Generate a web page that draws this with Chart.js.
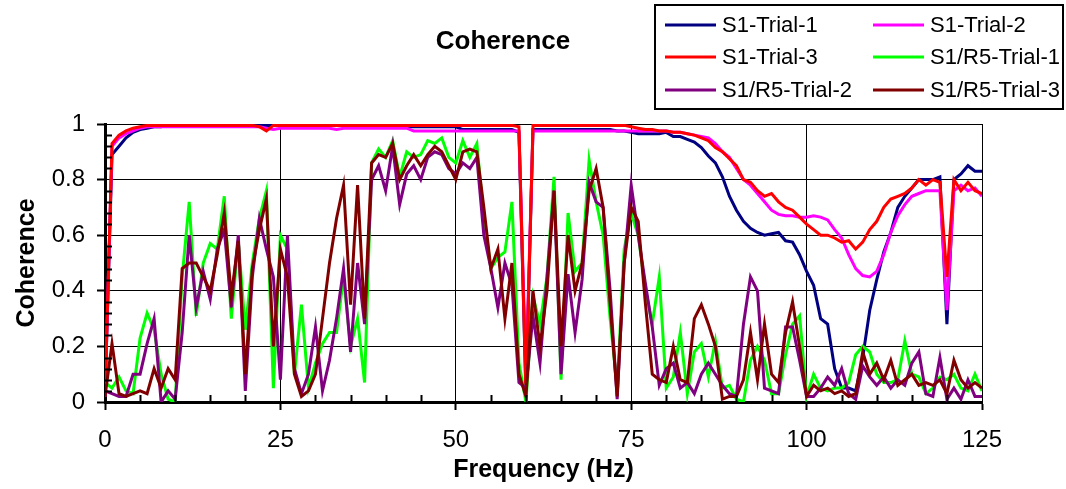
<!DOCTYPE html>
<html>
<head>
<meta charset="utf-8">
<title>Coherence</title>
<script src="https://cdn.jsdelivr.net/npm/chart.js@4.4.1/dist/chart.umd.min.js"></script>
<style>
  html, body { margin: 0; padding: 0; background: #fff; }
  #chart { display: block; }
</style>
</head>
<body>
<canvas id="chart" width="1066" height="489"></canvas>
<script>
'use strict';

// frequency bins (Hz), one per Hz
let freq = [
  0,1,2,3,4,5,6,7,8,9,10,11,12,13,14,15,16,17,18,19,
  20,21,22,23,24,25,26,27,28,29,30,31,32,33,34,35,36,37,38,39,
  40,41,42,43,44,45,46,47,48,49,50,51,52,53,54,55,56,57,58,59,
  60,61,62,63,64,65,66,67,68,69,70,71,72,73,74,75,76,77,78,79,
  80,81,82,83,84,85,86,87,88,89,90,91,92,93,94,95,96,97,98,99,
  100,101,102,103,104,105,106,107,108,109,110,111,112,113,114,115,116,117,118,119,
  120,121,122,123,124,125
];

let s1Trial1 = [
  0.02,0.89,0.92,0.95,0.97,0.98,0.985,0.99,0.99,0.995,
  0.995,0.995,0.995,0.995,0.995,0.995,0.995,0.995,0.995,0.995,
  0.995,0.995,0.995,0.995,0.995,0.995,0.995,0.995,0.995,0.995,
  0.995,0.995,0.995,0.995,0.995,0.995,0.995,0.995,0.995,0.995,
  0.995,0.99,0.99,0.99,0.99,0.99,0.99,0.99,0.99,0.99,
  0.99,0.98,0.98,0.98,0.98,0.98,0.98,0.98,0.98,0.97,
  0.03,0.98,0.98,0.98,0.98,0.98,0.98,0.98,0.98,0.98,
  0.98,0.98,0.98,0.975,0.975,0.97,0.965,0.965,0.965,0.965,
  0.97,0.955,0.955,0.945,0.935,0.915,0.885,0.86,0.81,0.74,
  0.69,0.65,0.625,0.61,0.6,0.605,0.61,0.58,0.575,0.53,
  0.47,0.42,0.3,0.28,0.12,0.05,0.05,0.04,0.16,0.33,
  0.44,0.54,0.61,0.7,0.74,0.77,0.8,0.8,0.8,0.81,
  0.28,0.8,0.82,0.85,0.83,0.83
];

let s1Trial2 = [
  0.02,0.92,0.95,0.965,0.975,0.985,0.99,0.99,0.99,0.99,
  0.99,0.99,0.99,0.99,0.99,0.99,0.99,0.99,0.99,0.99,
  0.99,0.99,0.99,0.985,0.98,0.985,0.985,0.985,0.985,0.985,
  0.985,0.985,0.985,0.98,0.985,0.985,0.985,0.985,0.985,0.985,
  0.985,0.985,0.985,0.985,0.975,0.975,0.975,0.975,0.975,0.975,
  0.975,0.975,0.975,0.975,0.975,0.975,0.975,0.975,0.975,0.975,
  0.1,0.975,0.975,0.975,0.975,0.975,0.975,0.975,0.975,0.975,
  0.975,0.975,0.975,0.975,0.975,0.975,0.975,0.975,0.975,0.975,
  0.975,0.97,0.97,0.965,0.96,0.955,0.95,0.93,0.9,0.88,
  0.84,0.8,0.78,0.75,0.72,0.69,0.675,0.67,0.67,0.665,
  0.665,0.67,0.665,0.655,0.62,0.59,0.53,0.48,0.455,0.45,
  0.47,0.53,0.61,0.67,0.71,0.74,0.75,0.76,0.76,0.76,
  0.33,0.76,0.78,0.76,0.77,0.74
];

let s1Trial3 = [
  0.02,0.93,0.96,0.975,0.985,0.99,0.995,0.995,0.995,0.995,
  0.995,0.995,0.995,0.995,0.995,0.995,0.995,0.995,0.995,0.995,
  0.995,0.995,0.99,0.975,0.995,0.995,0.995,0.995,0.995,0.995,
  0.995,0.995,0.995,0.995,0.995,0.995,0.995,0.995,0.995,0.995,
  0.995,0.995,0.995,0.995,0.995,0.995,0.995,0.995,0.995,0.995,
  0.995,0.995,0.995,0.995,0.995,0.995,0.995,0.995,0.995,0.99,
  0.03,0.995,0.995,0.995,0.995,0.995,0.995,0.995,0.995,0.995,
  0.995,0.995,0.995,0.995,0.995,0.99,0.985,0.98,0.98,0.975,
  0.975,0.97,0.97,0.965,0.96,0.95,0.94,0.915,0.9,0.875,
  0.85,0.8,0.79,0.76,0.74,0.75,0.72,0.7,0.69,0.665,
  0.64,0.62,0.6,0.6,0.59,0.575,0.58,0.55,0.575,0.62,
  0.65,0.7,0.73,0.74,0.75,0.77,0.8,0.78,0.8,0.79,
  0.45,0.8,0.76,0.79,0.76,0.75
];

let r5Trial1 = [
  0.07,0.05,0.09,0.04,0.03,0.23,0.32,0.26,0.1,0.01,
  0.0,0.45,0.72,0.31,0.5,0.57,0.55,0.74,0.3,0.58,
  0.26,0.5,0.66,0.76,0.05,0.6,0.55,0.1,0.35,0.05,
  0.14,0.21,0.25,0.25,0.45,0.2,0.3,0.07,0.86,0.91,
  0.88,0.94,0.81,0.9,0.88,0.89,0.94,0.93,0.95,0.88,
  0.86,0.94,0.88,0.93,0.66,0.48,0.52,0.54,0.72,0.14,
  0.0,0.38,0.28,0.45,0.81,0.08,0.68,0.47,0.5,0.87,
  0.72,0.6,0.3,0.05,0.55,0.68,0.6,0.41,0.28,0.45,
  0.05,0.09,0.25,0.03,0.18,0.21,0.09,0.22,0.05,0.06,
  0.01,0.0,0.15,0.2,0.15,0.03,0.03,0.17,0.28,0.31,
  0.02,0.1,0.05,0.04,0.05,0.05,0.07,0.17,0.2,0.18,
  0.1,0.07,0.07,0.08,0.22,0.1,0.09,0.03,0.05,0.09,
  0.08,0.1,0.05,0.04,0.1,0.04
];

let r5Trial2 = [
  0.04,0.03,0.02,0.02,0.1,0.1,0.21,0.3,0.0,0.04,
  0.01,0.25,0.6,0.34,0.47,0.37,0.55,0.62,0.34,0.6,
  0.04,0.45,0.66,0.55,0.45,0.08,0.6,0.12,0.03,0.1,
  0.27,0.04,0.15,0.3,0.48,0.18,0.5,0.28,0.8,0.85,
  0.76,0.92,0.71,0.82,0.85,0.8,0.88,0.9,0.89,0.84,
  0.82,0.86,0.84,0.88,0.6,0.48,0.34,0.5,0.42,0.07,
  0.05,0.31,0.14,0.45,0.76,0.1,0.46,0.25,0.44,0.79,
  0.72,0.7,0.4,0.01,0.5,0.78,0.6,0.43,0.27,0.06,
  0.12,0.14,0.05,0.07,0.03,0.1,0.14,0.1,0.06,0.03,
  0.02,0.28,0.45,0.4,0.05,0.04,0.03,0.27,0.27,0.15,
  0.02,0.02,0.05,0.09,0.06,0.12,0.03,0.01,0.13,0.09,
  0.06,0.09,0.05,0.08,0.06,0.14,0.18,0.03,0.02,0.16,
  0.01,0.05,0.01,0.08,0.02,0.02
];

let r5Trial3 = [
  0.02,0.21,0.03,0.02,0.03,0.04,0.03,0.12,0.05,0.12,
  0.08,0.48,0.5,0.5,0.45,0.4,0.53,0.68,0.38,0.58,
  0.1,0.48,0.62,0.73,0.2,0.55,0.45,0.1,0.02,0.04,
  0.1,0.3,0.5,0.66,0.78,0.35,0.78,0.3,0.86,0.89,
  0.88,0.93,0.8,0.85,0.89,0.85,0.89,0.92,0.9,0.85,
  0.8,0.9,0.91,0.9,0.7,0.48,0.55,0.3,0.5,0.1,
  0.02,0.4,0.2,0.4,0.76,0.2,0.6,0.4,0.5,0.76,
  0.84,0.7,0.35,0.02,0.5,0.7,0.65,0.36,0.1,0.08,
  0.07,0.2,0.08,0.07,0.3,0.35,0.28,0.2,0.01,0.02,
  0.02,0.08,0.25,0.08,0.28,0.1,0.07,0.25,0.36,0.2,
  0.02,0.06,0.04,0.05,0.03,0.04,0.02,0.03,0.18,0.1,
  0.14,0.08,0.15,0.06,0.08,0.1,0.06,0.07,0.06,0.08,
  0.03,0.15,0.08,0.05,0.07,0.05
];

let seriesNames = ['S1-Trial-1', 'S1-Trial-2', 'S1-Trial-3', 'S1/R5-Trial-1', 'S1/R5-Trial-2', 'S1/R5-Trial-3'];
let seriesValues = [s1Trial1, s1Trial2, s1Trial3, r5Trial1, r5Trial2, r5Trial3];
let seriesColors = ['#000080', '#FF00FF', '#FF0000', '#00FF00', '#800080', '#800000'];

// axis ticks
let xTicks = [0, 25, 50, 75, 100, 125];
let xMinorTicks = [5,10,15,20,30,35,40,45,55,60,65,70,80,85,90,95,105,110,115,120];
let yTicks = [0, 0.2, 0.4, 0.6, 0.8, 1];
let yMinorTicks = [0.04,0.08,0.12,0.16,0.24,0.28,0.32,0.36,0.44,0.48,0.52,0.56,0.64,0.68,0.72,0.76,0.84,0.88,0.92,0.96];

let fontFamily = '"Liberation Sans", Arial, Helvetica, sans-serif';

// title, legend box and the small inside ticks
let decorations = {
  id: 'decorations',
  afterDraw(chart) {
    let c = chart.ctx;
    let xs = chart.scales.x;
    let ys = chart.scales.y;
    let area = chart.chartArea;
    c.save();

    // minor ticks point into the plot
    c.strokeStyle = '#000';
    c.lineWidth = 2;
    c.beginPath();
    xMinorTicks.forEach(function(v) {
      let px = Math.round(xs.getPixelForValue(v)) + 0.5;
      c.moveTo(px, area.bottom);
      c.lineTo(px, area.bottom - 7);
    });
    yMinorTicks.forEach(function(v) {
      let py = Math.round(ys.getPixelForValue(v)) + 0.5;
      c.moveTo(area.left, py);
      c.lineTo(area.left + 7, py);
    });
    c.stroke();

    // chart title
    c.fillStyle = '#000';
    c.font = 'bold 26px ' + fontFamily;
    c.textAlign = 'center';
    c.textBaseline = 'middle';
    c.fillText('Coherence', 503, 42);

    // legend box, two columns
    c.lineWidth = 2;
    c.strokeRect(655, 5, 408, 104);
    let colX = [665, 873];
    let rowY = [25, 57, 90];
    c.font = '22px ' + fontFamily;
    c.textAlign = 'left';
    chart.data.datasets.forEach(function(ds, i) {
      let x = colX[i % 2];
      let y = rowY[Math.floor(i / 2)];
      c.strokeStyle = ds.borderColor;
      c.lineWidth = 3;
      c.beginPath();
      c.moveTo(x, y);
      c.lineTo(x + 51, y);
      c.stroke();
      c.fillStyle = '#000';
      c.fillText(ds.label, x + 57, y + 1);
    });
    c.restore();
  }
};

function renderChart() {
  let ctx = document.getElementById('chart');

  let datasets = seriesNames.map(function(name, i) {
    return {
      label: name,
      data: freq.map(function(f, j) {
        return { x: f, y: seriesValues[i][j] };
      }),
      borderColor: seriesColors[i],
      backgroundColor: seriesColors[i],
      borderWidth: 3,
      pointRadius: 0,
      tension: 0,
      fill: false,
      // later series are drawn on top, like the original
      order: seriesNames.length - i
    };
  });

  new Chart(ctx, {
    type: 'line',
    data: { datasets: datasets },
    options: {
      responsive: false,
      animation: false,
      layout: { padding: { top: 124, right: 84, left: 0, bottom: 0 } },
      plugins: {
        legend: { display: false },
        title: { display: false },
        tooltip: { enabled: false }
      },
      scales: {
        x: {
          type: 'linear',
          min: 0,
          max: 125,
          afterBuildTicks: function(scale) {
            scale.ticks = xTicks.map(function(v) { return { value: v }; });
          },
          afterFit: function(scale) { scale.height = 87; },
          grid: { color: '#000', lineWidth: 1, tickLength: 8, tickColor: '#000', tickWidth: 2 },
          border: { color: '#000', width: 3 },
          ticks: {
            color: '#000',
            font: { family: fontFamily, size: 24 },
            padding: 16,
            maxRotation: 0,
            autoSkip: false
          },
          title: {
            display: true,
            text: 'Frequency (Hz)',
            color: '#000',
            font: { family: fontFamily, size: 25, weight: 'bold' },
            padding: { top: 0, bottom: 4 }
          }
        },
        y: {
          min: 0,
          max: 1,
          afterBuildTicks: function(scale) {
            scale.ticks = yTicks.map(function(v) { return { value: v }; });
          },
          afterFit: function(scale) { scale.width = 105; },
          grid: { color: '#000', lineWidth: 1, tickLength: 8, tickColor: '#000', tickWidth: 2 },
          border: { color: '#000', width: 3 },
          ticks: {
            color: '#000',
            font: { family: fontFamily, size: 24 },
            padding: 12,
            autoSkip: false,
            callback: function(v) { return String(v); }
          },
          title: {
            display: true,
            text: 'Coherence',
            color: '#000',
            font: { family: fontFamily, size: 25, weight: 'bold' },
            padding: { top: 12, bottom: 0 }
          }
        }
      }
    },
    plugins: [decorations]
  });
}

renderChart();
</script>
</body>
</html>
